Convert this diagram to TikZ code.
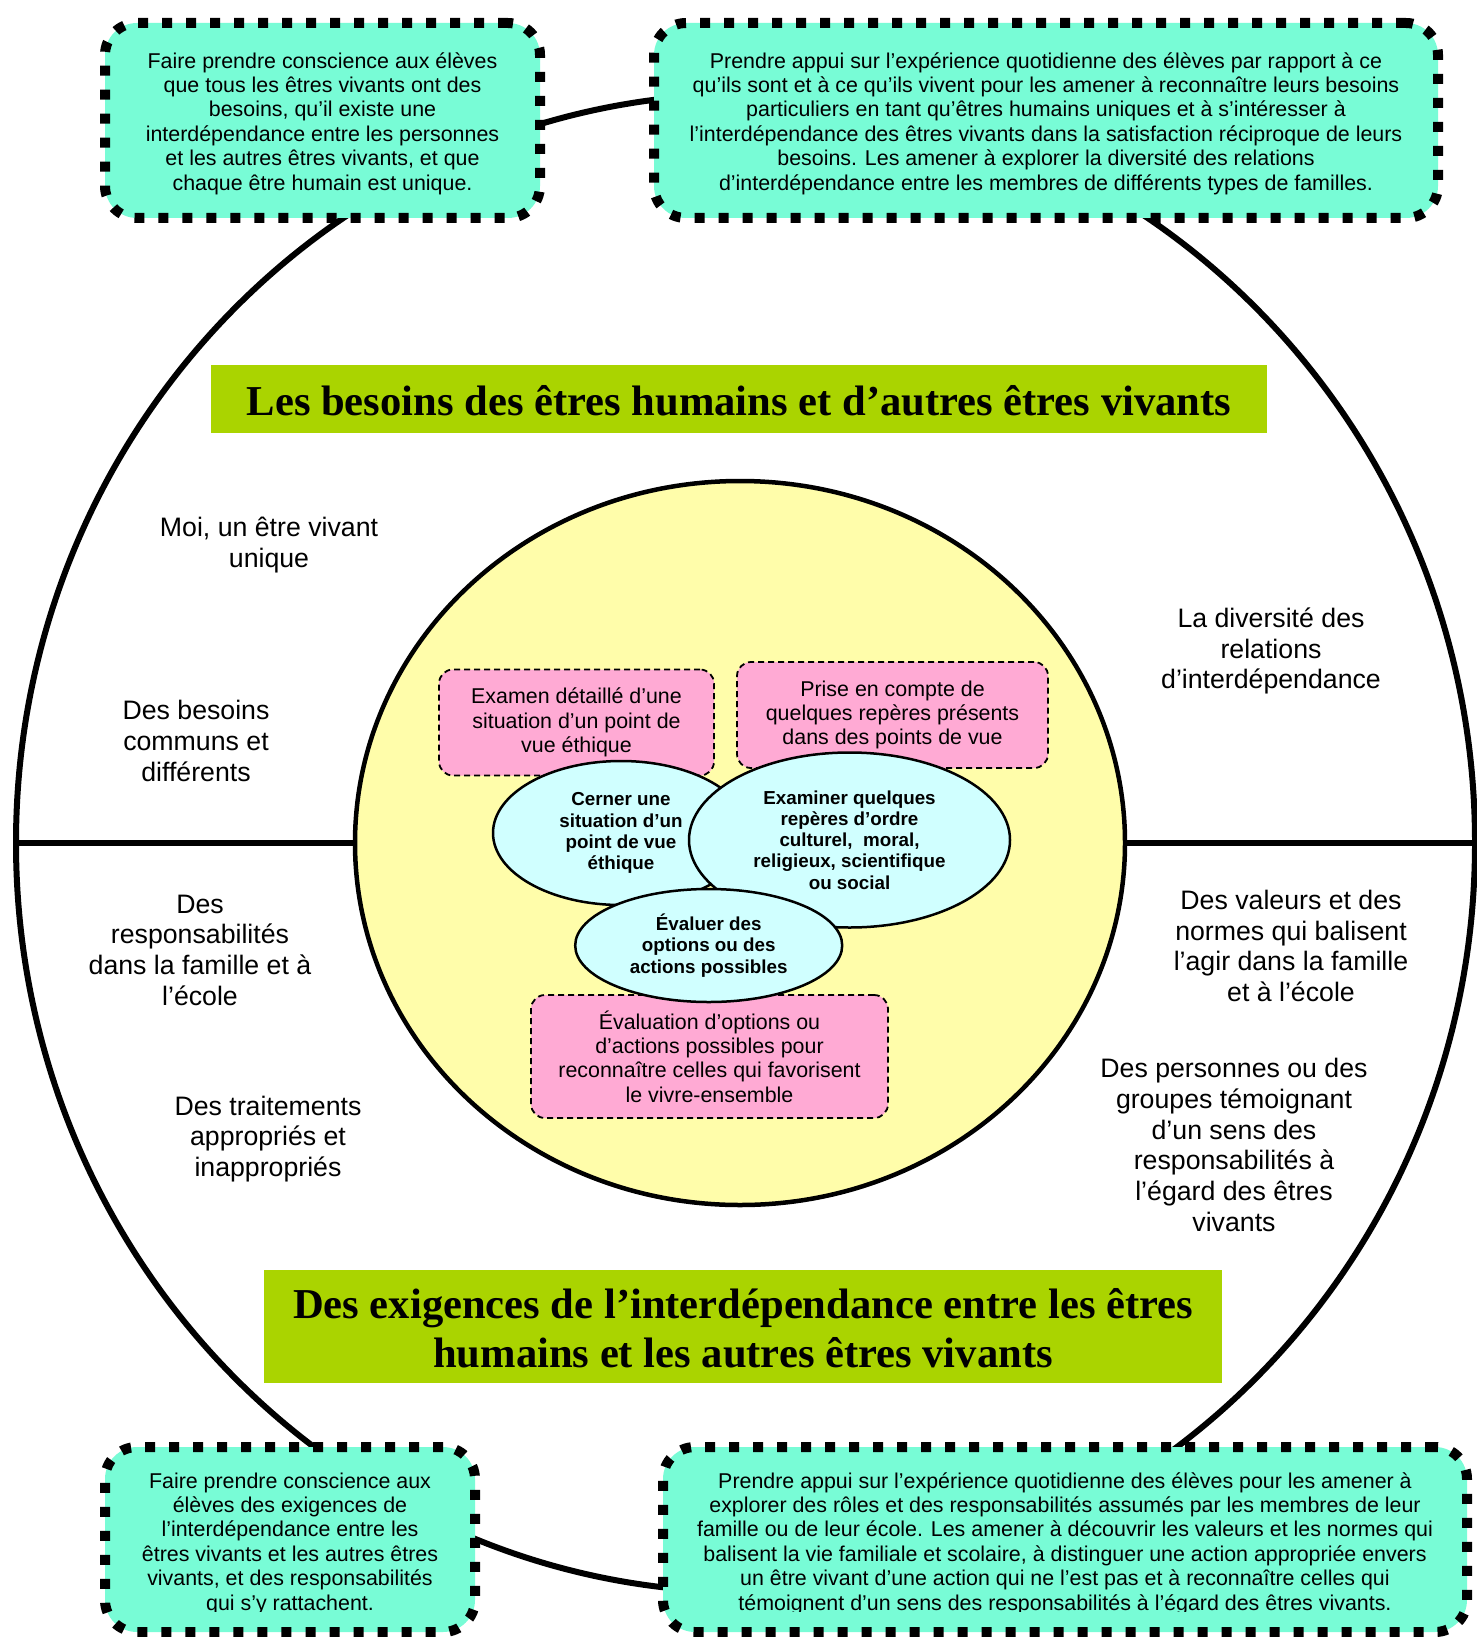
\documentclass[tikz,border=0pt]{standalone}
\usepackage{fontspec}
\setmainfont{Liberation Sans}
\newfontfamily\titlefont{Liberation Serif}
\usetikzlibrary{shapes.geometric}
\definecolor{cyanbox}{RGB}{120,252,214}
\definecolor{yellowc}{RGB}{255,253,170}
\definecolor{pinkbox}{RGB}{255,170,212}
\definecolor{ellc}{RGB}{208,255,255}
\definecolor{titleg}{RGB}{170,212,0}
\tikzset{
  goalbox/.style={draw, fill=cyanbox, line width=10pt, dash pattern=on 10pt off 14pt,
    rounded corners=32pt, inner sep=0pt, outer sep=0pt},
  boxtext/.style={font=\fontsize{21.4}{24.4}\selectfont, align=center, inner sep=0pt},
  sidetext/.style={font=\fontsize{26.7}{30.7}\selectfont, align=center, inner sep=0pt},
  pinkb/.style={draw, fill=pinkbox, line width=1.8pt, dash pattern=on 6pt off 4pt,
    rounded corners=14pt, inner sep=0pt, font=\fontsize{21.4}{24.4}\selectfont, align=center},
  oval/.style={ellipse, draw, fill=ellc, line width=2.5pt, inner sep=0pt,
    font=\bfseries\fontsize{18.8}{21.2}\selectfont, align=center},
  titlebox/.style={fill=titleg, inner sep=0pt},
  titletext/.style={inner sep=0pt, font=\titlefont\bfseries\fontsize{42.6}{49}\selectfont, align=center}
}
\begin{document}
\begin{tikzpicture}[x=1pt, y=-1pt]
\useasboundingbox (0,0) rectangle (1476,1637);
\fill[white] (0,0) rectangle (1476,1637);

% outer ellipse
\node[draw, ellipse, line width=6pt, minimum width=1459pt, minimum height=1498pt,
  inner sep=0pt, outer sep=0pt] (outer) at (745.5,843) {};
% inner yellow circle
\node[ellipse, minimum width=770pt, minimum height=724pt, inner sep=0pt, outer sep=0pt]
  (inner) at (740,843) {};
\draw[line width=6pt] (outer.west) -- (inner.west);
\draw[line width=6pt] (inner.east) -- (outer.east);
\draw[fill=yellowc, line width=4.5pt] (inner.center) ellipse [x radius=385pt, y radius=362pt];

% pink boxes
\node[pinkb, minimum width=275pt, minimum height=106pt] (p1) at (576.5,722.5)
  {Examen détaillé d’une\\situation d’un point de\\vue éthique};
\node[pinkb, minimum width=311pt, minimum height=106pt] (p2) at (892.5,715)
  {Prise en compte de\\quelques repères présents\\dans des points de vue};
\node[pinkb, minimum width=357pt, minimum height=123pt] (p3) at (709.5,1056.5)
  {Évaluation d’options ou\\d’actions possibles pour\\reconnaître celles qui favorisent\\le vivre-ensemble};

% ovals
\node[oval, minimum width=256pt, minimum height=144pt] (e1) at (621,833)
  {Cerner une\\situation d’un\\point de vue\\éthique};
\node[oval, minimum width=321pt, minimum height=175pt] (e2) at (849.5,840)
  {Examiner quelques\\repères d’ordre\\culturel,~ moral,\\religieux, scientifique\\ou social};
\node[oval, minimum width=267pt, minimum height=113pt] (e3) at (708.7,945.5)
  {Évaluer des\\options ou des\\actions possibles};

% titles
\node[titlebox, minimum width=1056pt, minimum height=68pt] (t1) at (739,399) {};
\node[titletext] (t1text) at ([yshift=-2pt]t1.center)
  {Les besoins des êtres humains et d’autres êtres vivants};
\node[titlebox, minimum width=958pt, minimum height=113pt] (t2) at (743,1326.5) {};
\node[titletext] (t2text) at ([yshift=-2pt]t2.center)
  {Des exigences de l’interdépendance entre les êtres\\humains et les autres êtres vivants};

% side texts
\node[sidetext] (s1) at (269,545) {Moi, un être vivant\\unique};
\node[sidetext] (s2) at (196,741) {Des besoins\\communs et\\différents};
\node[sidetext] (s3) at (1271,651) {La diversité des\\relations\\d’interdépendance};
\node[sidetext] (s4) at (200,950) {Des\\responsabilités\\dans la famille et à\\l’école};
\node[sidetext] (s5) at (1291,946) {Des valeurs et des\\normes qui balisent\\l’agir dans la famille\\et à l’école};
\node[sidetext] (s6) at (268,1139) {Des traitements\\appropriés et\\inappropriés};
\node[sidetext] (s7) at (1234,1145) {Des personnes ou des\\groupes témoignant\\d’un sens des\\responsabilités à\\l’égard des êtres\\vivants};

% goal boxes
\node[goalbox, minimum width=435pt, minimum height=195pt] (tl) at (322.5,120.5) {};
\node[boxtext] (tltext) at ([yshift=-3pt]tl.center)
  {Faire prendre conscience aux élèves\\que tous les êtres vivants ont des\\besoins, qu’il existe une\\interdépendance entre les personnes\\et les autres êtres vivants, et que\\chaque être humain est unique.};
\node[goalbox, minimum width=784pt, minimum height=195pt] (tr) at (1046,120.5) {};
\node[boxtext] (trtext) at ([yshift=-3pt]tr.center)
  {Prendre appui sur l’expérience quotidienne des élèves par rapport à ce\\qu’ils sont et à ce qu’ils vivent pour les amener à reconnaître leurs besoins\\particuliers en tant qu’êtres humains uniques et à s’intéresser à\\l’interdépendance des êtres vivants dans la satisfaction réciproque de leurs\\besoins. Les amener à explorer la diversité des relations\\d’interdépendance entre les membres de différents types de familles.};
\node[goalbox, minimum width=370pt, minimum height=185pt] (bl) at (290,1539.5) {};
\node[goalbox, minimum width=804pt, minimum height=185pt] (br) at (1065,1539.5) {};
\begin{scope}
\clip (0,0) rectangle (1476,1611);
\node[boxtext] (bltext) at ([yshift=-4pt]bl.center)
  {Faire prendre conscience aux\\élèves des exigences de\\l’interdépendance entre les\\êtres vivants et les autres êtres\\vivants, et des responsabilités\\qui s’y rattachent.};
\node[boxtext] (brtext) at ([yshift=-4pt]br.center)
  {Prendre appui sur l’expérience quotidienne des élèves pour les amener à\\explorer des rôles et des responsabilités assumés par les membres de leur\\famille ou de leur école. Les amener à découvrir les valeurs et les normes qui\\balisent la vie familiale et scolaire, à distinguer une action appropriée envers\\un être vivant d’une action qui ne l’est pas et à reconnaître celles qui\\témoignent d’un sens des responsabilités à l’égard des êtres vivants.};
\end{scope}
\end{tikzpicture}
\end{document}
